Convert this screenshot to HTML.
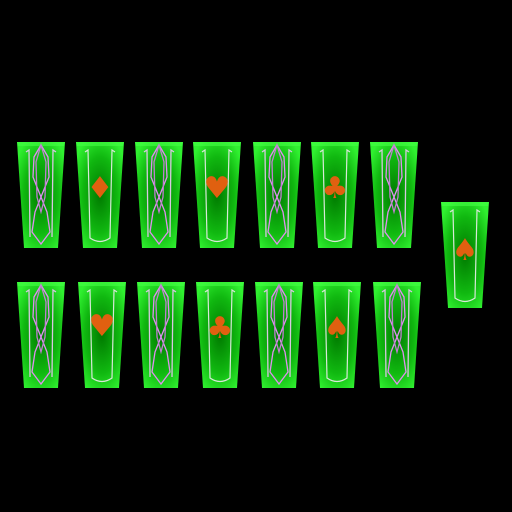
<!DOCTYPE html>
<html><head><meta charset="utf-8"><style>
html,body{margin:0;padding:0;background:#000;width:512px;height:512px;overflow:hidden}
svg{display:block}
</style></head><body>
<svg width="512" height="512" viewBox="0 0 512 512" xmlns="http://www.w3.org/2000/svg">
<defs>
<radialGradient id="g" cx="0.5" cy="0.5" r="0.6">
<stop offset="0" stop-color="#007a00"/>
<stop offset="0.6" stop-color="#10b810"/>
<stop offset="1" stop-color="#30f030"/>
</radialGradient>
<g id="base">
<polygon points="0,0 48,0 41,106 7,106" fill="url(#g)"/>
<polygon points="0,0 48,0 47,4 1,4" fill="#4f4" opacity="0.6"/>
</g>
<g id="orn" fill="none" stroke-width="1.3">
<path d="M9,10 L12,8 L13,95 M39,10 L36,8 L35,95" stroke="#d8c8e0"/>
<path d="M24,3 L17,15 L16,35 L30,70 L33,90 L24,102 L15,90 L18,70 L32,35 L31,15 Z" stroke="#e090f0"/>
<path d="M24,3 L19,20 L20,55 L24,70 L28,55 L29,20 Z" stroke="#c080d0"/>
</g>
<g id="plain" fill="none" stroke="#d8e8d8" stroke-width="1.2">
<path d="M9,10 L12,8 L14,96 Q24,103 34,96 L36,8 L39,10"/>
</g>
</defs>
<g font-size="30" fill="#e06010" font-family="DejaVu Sans, sans-serif" text-anchor="middle">
<g>
<g transform="translate(17,142)"><use href="#base"/><use href="#orn"/></g>
<g transform="translate(76,142)"><use href="#base"/><use href="#plain"/><text x="24" y="56">♦</text></g>
<g transform="translate(135,142)"><use href="#base"/><use href="#orn"/></g>
<g transform="translate(193,142)"><use href="#base"/><use href="#plain"/><text x="24" y="56">♥</text></g>
<g transform="translate(253,142)"><use href="#base"/><use href="#orn"/></g>
<g transform="translate(311,142)"><use href="#base"/><use href="#plain"/><text x="24" y="56">♣</text></g>
<g transform="translate(370,142)"><use href="#base"/><use href="#orn"/></g>
</g>
<g transform="translate(441,202)"><use href="#base"/><use href="#plain"/><text x="24" y="58">♠</text></g>
<g>
<g transform="translate(17,282)"><use href="#base"/><use href="#orn"/></g>
<g transform="translate(78,282)"><use href="#base"/><use href="#plain"/><text x="24" y="54">♥</text></g>
<g transform="translate(137,282)"><use href="#base"/><use href="#orn"/></g>
<g transform="translate(196,282)"><use href="#base"/><use href="#plain"/><text x="24" y="56">♣</text></g>
<g transform="translate(255,282)"><use href="#base"/><use href="#orn"/></g>
<g transform="translate(313,282)"><use href="#base"/><use href="#plain"/><text x="24" y="56">♠</text></g>
<g transform="translate(373,282)"><use href="#base"/><use href="#orn"/></g>
</g>
</g>
</svg>
</body></html>
